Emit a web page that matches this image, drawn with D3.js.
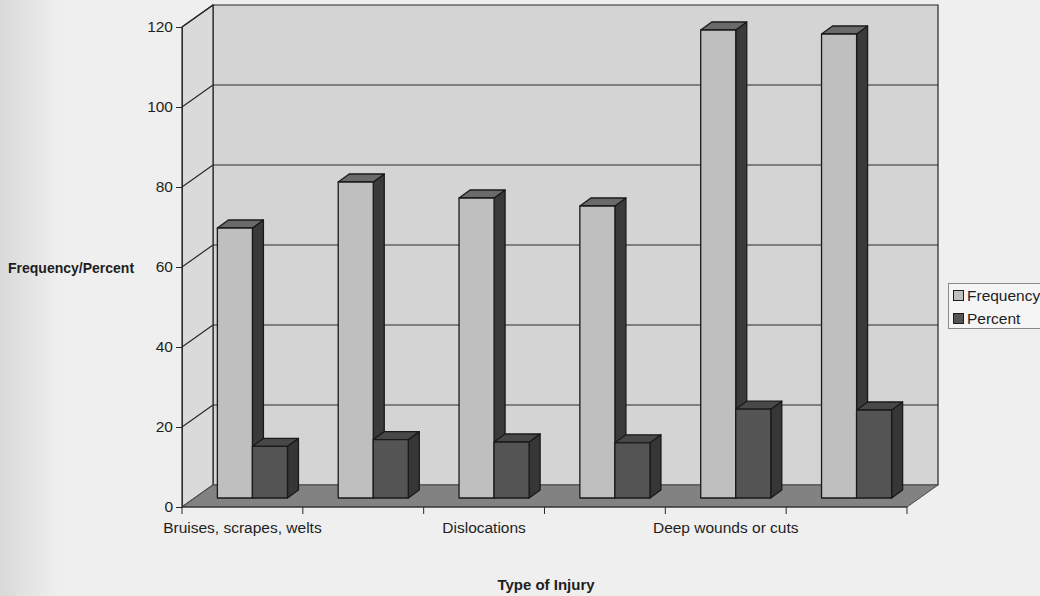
<!DOCTYPE html>
<html>
<head>
<meta charset="utf-8">
<script src="https://cdn.jsdelivr.net/npm/d3@7"></script>
<style>
  html, body { margin: 0; padding: 0; background: #efefef; }
  svg { display: block; }
  text { font-family: "Liberation Sans", Arial, sans-serif; fill: #1e1e1e; }
</style>
</head>
<body>
<svg id="chart" width="1040" height="596"></svg>
<script>
// Injury types (only every other label is printed under the axis)
const categories = [
  "Bruises, scrapes, welts",
  "Burns",
  "Dislocations",
  "Broken bones",
  "Deep wounds or cuts",
  "Other injuries"
];
const seriesNames = ["Frequency", "Percent"];
const frequency = [67.5, 79, 75, 73, 117, 116];
const percent = [12.9, 14.6, 14.0, 13.8, 22.2, 22.0];
const yTicks = [0, 20, 40, 60, 80, 100, 120];

const svg = d3.select("#chart");

// soft shading along the left margin
const defs = svg.append("defs");
const lg = defs.append("linearGradient").attr("id", "edge").attr("x1", 0).attr("x2", 1);
lg.append("stop").attr("offset", 0).attr("stop-color", "#d9d9d9");
lg.append("stop").attr("offset", 1).attr("stop-color", "#efefef");
svg.append("rect").attr("x", 0).attr("y", 0).attr("width", 60).attr("height", 596).attr("fill", "url(#edge)");

// Front plane of the 3-D box and the oblique depth vector
const x0 = d3.scaleBand().domain(categories).range([182, 907]).paddingInner(0.42).paddingOuter(0.21);
const x1 = d3.scaleBand().domain(seriesNames).range([0, x0.bandwidth()]);
const y = d3.scaleLinear().domain([0, 120]).range([507, 27]);
const DX = 31, DY = -22;           // full depth of the box
const BX0 = 10, BY0 = -9;          // front plane of the bars
const BX = 11, BY = -8;            // depth of each bar

const left = 182, right = 907;
const yMin = y(0), yMax = y(120);

const pts = a => a.map(p => p.join(",")).join(" ");

// back wall
svg.append("polygon")
  .attr("points", pts([[left + DX, yMax + DY], [right + DX, yMax + DY], [right + DX, yMin + DY], [left + DX, yMin + DY]]))
  .attr("fill", "#d4d4d4").attr("stroke", "#262626").attr("stroke-width", 1.2);
// side wall
svg.append("polygon")
  .attr("points", pts([[left, yMax], [left + DX, yMax + DY], [left + DX, yMin + DY], [left, yMin]]))
  .attr("fill", "#dadada").attr("stroke", "#262626").attr("stroke-width", 1.2);
// floor
svg.append("polygon")
  .attr("points", pts([[left, yMin], [right, yMin], [right + DX, yMin + DY], [left + DX, yMin + DY]]))
  .attr("fill", "#828282").attr("stroke", "#4a4a4a").attr("stroke-width", 1);

// gridlines on back and side walls
const grid = svg.append("g").attr("stroke", "#2a2a2a").attr("stroke-width", 1.2).attr("fill", "none");
yTicks.filter(t => t > 0 && t < 120).forEach(t => {
  grid.append("line").attr("x1", left + DX).attr("x2", right + DX)
    .attr("y1", y(t) + DY).attr("y2", y(t) + DY);
});
yTicks.filter(t => t > 0).forEach(t => {
  grid.append("line").attr("x1", left).attr("x2", left + DX)
    .attr("y1", y(t)).attr("y2", y(t) + DY);
});

// bars
const styles = {
  Frequency: { front: "#bfbfbf", side: "#3a3a3a", top: "#6a6a6a" },
  Percent:   { front: "#545454", side: "#363636", top: "#484848" }
};
const bars = svg.append("g").attr("stroke", "#1a1a1a").attr("stroke-width", 1.3).attr("stroke-linejoin", "round");
categories.forEach((c, i) => {
  const vals = { Frequency: frequency[i], Percent: percent[i] };
  seriesNames.forEach(s => {
    const xa = x0(c) + x1(s) + BX0;
    const xb = xa + x1.bandwidth();
    const yb = y(0) + BY0;
    const yt = y(vals[s]) + BY0;
    const st = styles[s];
    const g = bars.append("g");
    g.append("polygon").attr("fill", st.side)
      .attr("points", pts([[xb, yt], [xb + BX, yt + BY], [xb + BX, yb + BY], [xb, yb]]));
    g.append("polygon").attr("fill", st.top)
      .attr("points", pts([[xa, yt], [xa + BX, yt + BY], [xb + BX, yt + BY], [xb, yt]]));
    g.append("rect").attr("fill", st.front)
      .attr("x", xa).attr("y", yt).attr("width", xb - xa).attr("height", yb - yt);
  });
});

// value axis
const yAxis = svg.append("g").attr("transform", `translate(${left},0)`)
  .call(d3.axisLeft(y).tickValues(yTicks).tickSize(6).tickPadding(3).tickSizeOuter(0));
yAxis.select(".domain").attr("stroke", "#2a2a2a");
yAxis.selectAll(".tick line").attr("stroke", "#2a2a2a");
yAxis.selectAll(".tick text").attr("font-size", 15.5).attr("font-family", "Liberation Sans, Arial, sans-serif").attr("fill", "#1e1e1e");

// category axis along the front edge of the floor
const xAxisScale = d3.scalePoint().domain(d3.range(categories.length + 1)).range([left, right]);
const xg = svg.append("g").attr("transform", `translate(0,${yMin})`);
xg.append("line").attr("x1", left).attr("x2", right).attr("y1", 0).attr("y2", 0).attr("stroke", "#2a2a2a");
xg.selectAll("line.tk").data(xAxisScale.domain()).join("line").attr("class", "tk")
  .attr("x1", d => xAxisScale(d)).attr("x2", d => xAxisScale(d))
  .attr("y1", 0).attr("y2", 7).attr("stroke", "#2a2a2a");
xg.selectAll("text").data(categories.filter((c, i) => i % 2 === 0)).join("text")
  .attr("x", c => x0(c) + x0.bandwidth() / 2)
  .attr("y", 26).attr("text-anchor", "middle").attr("font-size", 15.5)
  .text(c => c);

// axis titles
svg.append("text").attr("x", 8).attr("y", 273).attr("font-size", 14).attr("font-weight", "bold")
  .text("Frequency/Percent");
svg.append("text").attr("x", 546).attr("y", 590).attr("text-anchor", "middle")
  .attr("font-size", 15).attr("font-weight", "bold").text("Type of Injury");

// legend
const leg = svg.append("g");
leg.append("rect").attr("x", 948.5).attr("y", 283.5).attr("width", 110).attr("height", 45)
  .attr("fill", "#f5f5f5").attr("stroke", "#8a8a8a");
seriesNames.forEach((s, i) => {
  const yy = 290 + i * 23;
  leg.append("rect").attr("x", 953.5).attr("y", yy + 0.5).attr("width", 10).attr("height", 10)
    .attr("fill", styles[s].front).attr("stroke", "#1c1c1c");
  leg.append("text").attr("x", 967).attr("y", yy + 11).attr("font-size", 15.5).text(s);
});
</script>
</body>
</html>
